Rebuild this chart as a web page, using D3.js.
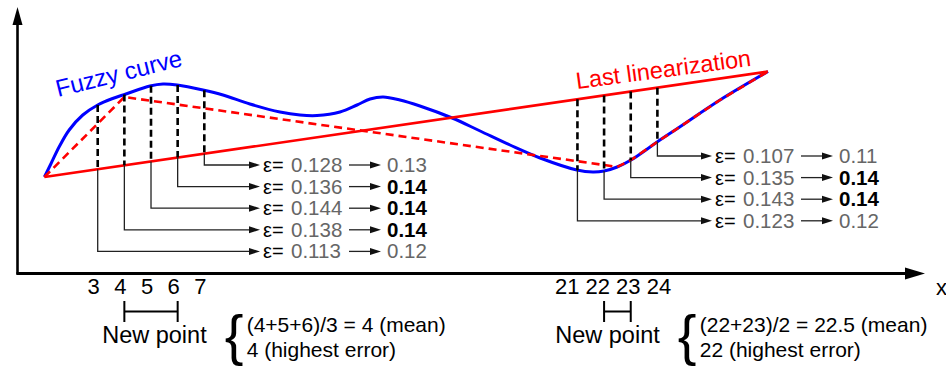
<!DOCTYPE html>
<html>
<head>
<meta charset="utf-8">
<script src="https://cdn.jsdelivr.net/npm/d3@7"></script>
<style>
body { margin: 0; background: #fff; }
text { font-family: "Liberation Sans", Arial, Helvetica, sans-serif; }
</style>
</head>
<body>
<div id="chart"></div>
<script>
// fuzzy curve (x = point index, y = arbitrary value)
var fuzzyX = [1, 1.25, 1.56, 1.93, 2.44, 3.0, 3.56, 4.06, 4.96, 5.45, 5.98, 6.95, 7.7, 8.71, 9.84, 10.59, 11.23, 12.09, 12.73, 13.22, 13.71, 14.34, 15.09, 16.3, 17.35, 18.47, 19.6, 20.98, 21.58, 22.0, 22.49, 23.01, 23.99, 24.78, 26.35, 28.15];
var fuzzyY = [9.65, 11.0, 12.7, 14.35, 15.85, 16.85, 17.5, 17.95, 18.75, 18.95, 18.85, 18.35, 17.85, 16.95, 16.15, 15.85, 15.8, 16.15, 16.85, 17.45, 17.65, 17.35, 16.75, 15.55, 14.25, 12.85, 11.55, 10.35, 10.15, 10.25, 10.65, 11.35, 13.15, 14.55, 17.35, 20.2];

// piecewise linearization (dashed)
var segX = [1, 4, 22, 22.49, 23.01, 23.99, 24.78, 26.35, 28.15];
var segY = [9.65, 17.65, 10.85, 10.65, 11.35, 13.15, 14.55, 17.35, 20.2];

// last linearization (solid)
var lastX = [1, 28.15];
var lastY = [9.65, 20.2];

// errors
var leftPoints = [7, 6, 5, 4, 3];
var leftErr = [0.128, 0.136, 0.144, 0.138, 0.113];
var leftRounded = ["0.13", "0.14", "0.14", "0.14", "0.12"];
var rightPoints = [24, 23, 22, 21];
var rightErr = [0.107, 0.135, 0.143, 0.123];
var rightRounded = ["0.11", "0.14", "0.14", "0.12"];

// bottom labels
var leftTicks = [3, 4, 5, 6, 7];
var rightTicks = [21, 22, 23, 24];
var leftSpan = [4, 6];
var rightSpan = [22, 23];
var leftNote = ["(4+5+6)/3 = 4 (mean)", "4 (highest error)"];
var rightNote = ["(22+23)/2 = 22.5 (mean)", "22 (highest error)"];

var svgWidth = 946;
var svgHeight = 367;
var axisY = 273.5;
var axisX = 17.5;

var svg = d3.select("#chart")
    .append("svg")
    .attr("width", svgWidth)
    .attr("height", svgHeight);

var x = d3.scaleLinear().domain([0, 28]).range([17.75, 764]);
var y = d3.scaleLinear().domain([0, 26.5]).range([axisY, 8.5]);

// axes with arrow heads
svg.append("line")
    .attr("x1", axisX).attr("y1", axisY + 1)
    .attr("x2", axisX).attr("y2", 20)
    .attr("stroke", "#000").attr("stroke-width", 2.6);
svg.append("path")
    .attr("d", `M${axisX},7 L${axisX - 5},25 L${axisX + 5},25 Z`)
    .attr("fill", "#000");
svg.append("line")
    .attr("x1", axisX - 1).attr("y1", axisY)
    .attr("x2", 910).attr("y2", axisY)
    .attr("stroke", "#000").attr("stroke-width", 2.8);
svg.append("path")
    .attr("d", `M925,${axisY} L905,${axisY - 6} L905,${axisY + 6} Z`)
    .attr("fill", "#000");
svg.append("text")
    .attr("x", 936).attr("y", 295)
    .style("font-size", "22px")
    .text("x");

var fuzzyData = fuzzyX.map((d, i) => [d, fuzzyY[i]]);
var segData = segX.map((d, i) => [d, segY[i]]);
var lastData = lastX.map((d, i) => [d, lastY[i]]);

var smooth = d3.line()
    .x(d => x(d[0]))
    .y(d => y(d[1]))
    .curve(d3.curveCatmullRom.alpha(0.5));
var straight = d3.line()
    .x(d => x(d[0]))
    .y(d => y(d[1]));

var fuzzyPath = svg.append("path")
    .datum(fuzzyData)
    .attr("d", smooth)
    .attr("fill", "none")
    .attr("stroke", "#0000ff")
    .attr("stroke-width", 3);

svg.append("path")
    .datum(lastData)
    .attr("d", straight)
    .attr("fill", "none")
    .attr("stroke", "#ff0000")
    .attr("stroke-width", 2.6);

svg.append("path")
    .datum(segData)
    .attr("d", straight)
    .attr("fill", "none")
    .attr("stroke", "#ff0000")
    .attr("stroke-width", 2.6)
    .attr("stroke-dasharray", "8,5");

// y pixel on the fuzzy curve for a pixel x
var pathNode = fuzzyPath.node();
var pathLen = pathNode.getTotalLength();
function fuzzyAt(px) {
    var lo = 0, hi = pathLen;
    for (var k = 0; k < 40; k++) {
        var mid = (lo + hi) / 2;
        if (pathNode.getPointAtLength(mid).x < px) lo = mid; else hi = mid;
    }
    return pathNode.getPointAtLength((lo + hi) / 2).y;
}
// y pixel on the last linearization
function lastAt(i) {
    var t = (i - lastX[0]) / (lastX[1] - lastX[0]);
    return y(lastY[0] + t * (lastY[1] - lastY[0]));
}

function arrowHead(g, tx, ty) {
    g.append("path")
        .attr("d", `M${tx},${ty} L${tx - 11},${ty - 3.5} L${tx - 11},${ty + 3.5} Z`)
        .attr("fill", "#111");
}

function errorGroup(points, errs, rounded, row0, tip) {
    var g = svg.append("g");
    var best = d3.max(rounded, d => +d);
    points.forEach(function(p, k) {
        var px = x(p);
        var yb = fuzzyAt(px);
        var yr = lastAt(p);
        var rowY = row0 + k * 21.6;
        g.append("line")
            .attr("x1", px).attr("x2", px)
            .attr("y1", Math.min(yb, yr)).attr("y2", Math.max(yb, yr))
            .attr("stroke", "#000")
            .attr("stroke-width", 2.6)
            .attr("stroke-dasharray", "7,4");
        g.append("path")
            .attr("d", `M${px},${Math.max(yb, yr)} L${px},${rowY} L${tip - 6},${rowY}`)
            .attr("fill", "none")
            .attr("stroke", "#222")
            .attr("stroke-width", 1.3);
        arrowHead(g, tip, rowY);
        g.append("text")
            .attr("x", tip + 3).attr("y", rowY + 7)
            .style("font-size", "20px")
            .attr("fill", "#000")
            .text("\u03b5=");
        g.append("text")
            .attr("x", tip + 31).attr("y", rowY + 7)
            .style("font-size", "20.5px")
            .attr("fill", "#666")
            .text(d3.format(".3f")(errs[k]));
        g.append("line")
            .attr("x1", tip + 89).attr("x2", tip + 115)
            .attr("y1", rowY).attr("y2", rowY)
            .attr("stroke", "#222")
            .attr("stroke-width", 1.3);
        arrowHead(g, tip + 121, rowY);
        var isBest = +rounded[k] === best;
        g.append("text")
            .attr("x", tip + 127).attr("y", rowY + 7)
            .style("font-size", "20.5px")
            .style("font-weight", isBest ? "bold" : "normal")
            .attr("fill", isBest ? "#000" : "#666")
            .text(rounded[k]);
    });
}

errorGroup(leftPoints, leftErr, leftRounded, 165, 260);
errorGroup(rightPoints, rightErr, rightRounded, 156, 712);

// curve labels
svg.append("text")
    .attr("transform", "translate(58,97) rotate(-14)")
    .style("font-size", "24px")
    .attr("fill", "#0000ff")
    .text("Fuzzy curve");
svg.append("text")
    .attr("transform", "translate(577,89) rotate(-7.6)")
    .style("font-size", "23.5px")
    .attr("fill", "#ff0000")
    .text("Last linearization");

// bottom: point indices, new point brackets and notes
function bottomGroup(ticks, span, note, asRow) {
    var g = svg.append("g");
    if (asRow) {
        // two-digit labels typed as one spaced row
        g.append("text")
            .attr("x", x(ticks[0]) - 22.5)
            .attr("y", 294)
            .style("font-size", "22px")
            .text(ticks.join(" "));
    } else {
        g.selectAll("text.tick")
            .data(ticks)
            .enter()
            .append("text")
            .classed("tick", true)
            .attr("x", d => x(d) - 4)
            .attr("y", 294)
            .style("font-size", "22px")
            .style("text-anchor", "middle")
            .text(d => d);
    }

    var x0 = x(span[0]), x1 = x(span[1]);
    g.append("path")
        .attr("d", `M${x0},301 L${x0},322 M${x0},311.5 L${x1},311.5 M${x1},301 L${x1},322`)
        .attr("fill", "none")
        .attr("stroke", "#000")
        .attr("stroke-width", 2);

    var braceX = x1 + 50;
    g.append("text")
        .attr("x", braceX - 21).attr("y", 343)
        .style("font-size", "23.5px")
        .style("text-anchor", "end")
        .text("New point");
    g.append("text")
        .attr("x", braceX - 3).attr("y", 354)
        .style("font-size", "56px")
        .text("{");
    g.selectAll("text.note")
        .data(note)
        .enter()
        .append("text")
        .classed("note", true)
        .attr("x", braceX + 19)
        .attr("y", (d, i) => 332 + i * 25)
        .style("font-size", "21px")
        .text(d => d);
}

bottomGroup(leftTicks, leftSpan, leftNote, false);
bottomGroup(rightTicks, rightSpan, rightNote, true);
</script>
</body>
</html>
